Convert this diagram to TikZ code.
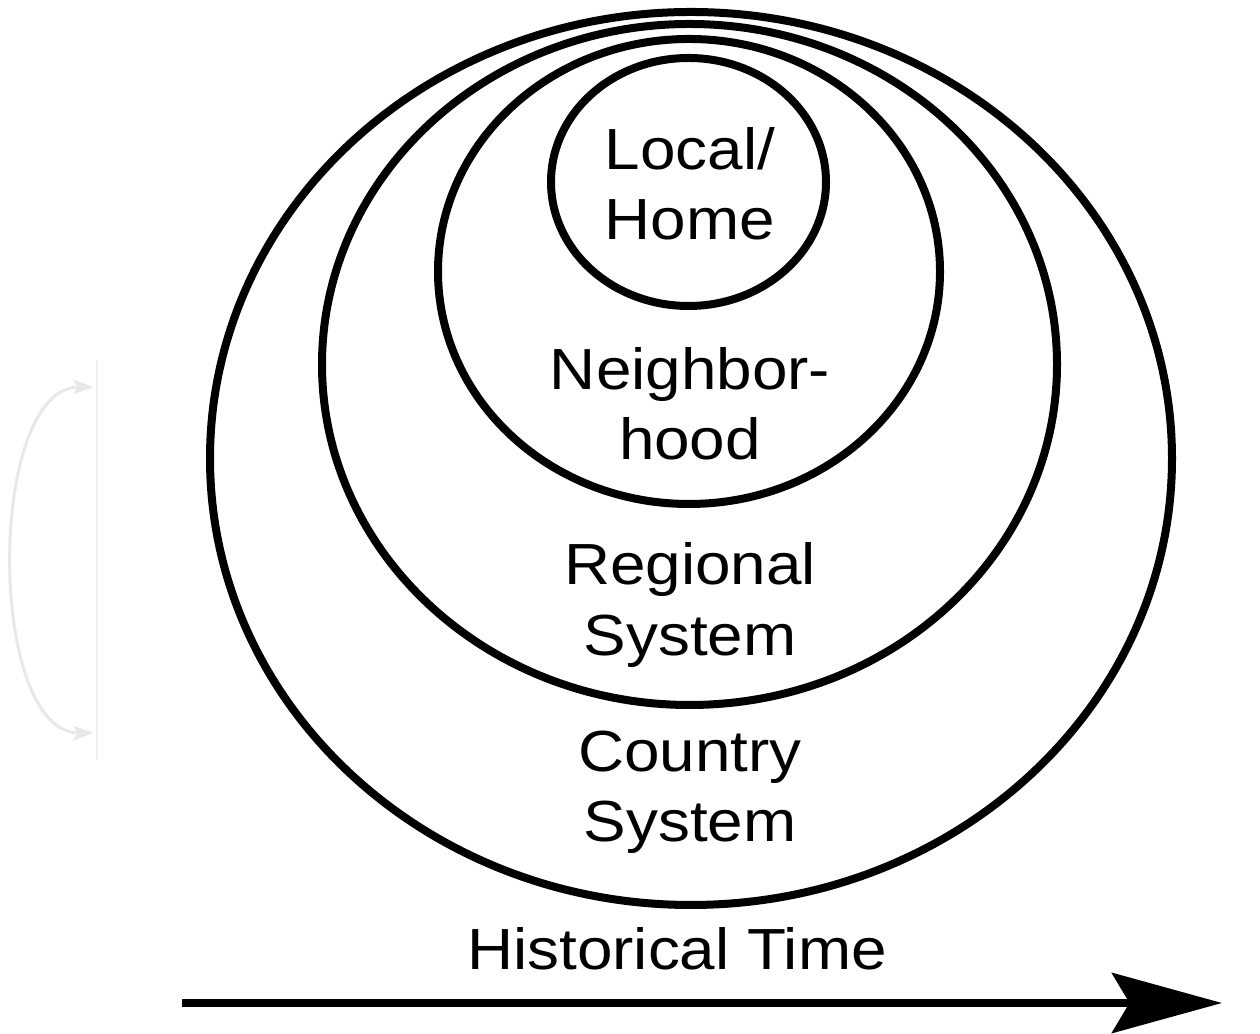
\documentclass[tikz,border=0pt]{standalone}
\usepackage{fontspec}
\setmainfont{Liberation Sans}[FakeStretch=1.1]
\usepackage{tikz}
\usetikzlibrary{arrows.meta,positioning}

\begin{document}
\begin{tikzpicture}[
    layer/.style={draw, line width=0.16cm},
    layertext/.style={align=center, inner sep=0pt, font=\fontsize{33}{40}\selectfont},
    faint/.style={draw=black!9, line width=0.06cm}
  ]
    \useasboundingbox (0,0) rectangle (25.2,20.68);

    % Nested levels
    \coordinate (country) at (13.82,11.51);
    \coordinate (regional) at (13.79,13.39);
    \coordinate (neighbor) at (13.78,15.25);
    \coordinate (home) at (13.77,17.04);

    \draw [layer] (country) ellipse [x radius=9.62, y radius=8.93];
    \draw [layer] (regional) ellipse [x radius=7.35, y radius=6.81];
    \draw [layer] (neighbor) ellipse [x radius=5.02, y radius=4.65];
    \draw [layer] (home) ellipse [x radius=2.75, y radius=2.48];

    % Labels
    \node [layertext] (hometext) at (13.8,17.0) {Local/\\Home};
    \node [layertext] (neighbortext) at (13.8,12.6) {Neighbor-\\hood};
    \node [layertext] (regionaltext) at (13.8,8.58) {Regional\\System};
    \node [layertext] (countrytext) at (13.8,4.84) {Country\\System};

    % Time axis
    \node [layertext] (timetext) at (13.54,1.70) {Historical Time};
    \coordinate (tstart) at (3.64,0.62);
    \coordinate (tend) at (24.44,0.62);
    \draw [line width=0.16cm, -{Stealth[length=2.2cm, width=1.2cm, inset=0.35cm]}] (tstart) -- (tend);

    % Faded loop on the left
    \coordinate (ltop) at (1.94,13.48);
    \coordinate (lbot) at (1.94,5.48);
    \coordinate (atop) at (1.86,12.94);
    \coordinate (abot) at (1.86,6.02);
    \draw [draw=black!6, line width=0.05cm] (ltop) -- (lbot);
    \draw [faint, {Stealth[length=0.4cm, width=0.3cm, inset=0.1cm]}-{Stealth[length=0.4cm, width=0.3cm, inset=0.1cm]}]
        (atop) .. controls (-0.27,12.94) and (-0.27,6.02) .. (abot);

\end{tikzpicture}
\end{document}
